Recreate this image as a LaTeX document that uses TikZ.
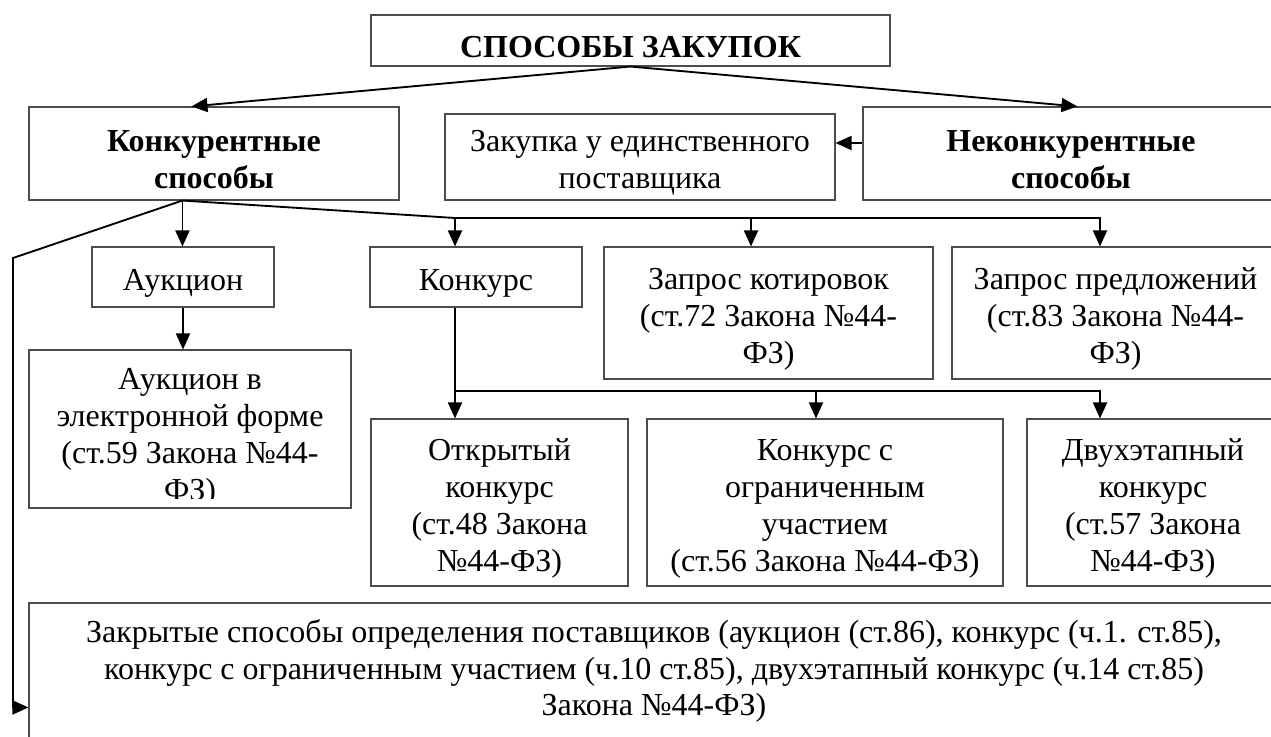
\documentclass[tikz,border=0pt]{standalone}
\usepackage{fontspec}
\setmainfont{Liberation Serif}
\usetikzlibrary{arrows.meta,calc}
\newcommand\fstline{\rule{0pt}{25pt}}
\tikzset{
  box/.style={draw=black!70, line width=0.8pt, rectangle, inner sep=0pt, align=center,
              font=\fontsize{24}{27.7}\selectfont},
  txt/.style={inner sep=0pt, align=center, font=\fontsize{24}{27.7}\selectfont},
  conn/.style={line width=1.4pt, -{Triangle[length=12pt,width=10.5pt]}},
}
\begin{document}
\begin{tikzpicture}[x=0.75pt,y=-0.75pt]
\useasboundingbox (0,0) rectangle (1271,736);
\fill[white] (0,0) rectangle (1271,736);
\clip (0,0) rectangle (1271,736);

% boxes
\node[box, minimum width=389.25pt, minimum height=38.25pt] (top) at (630.5,40.5) {\fstline\textbf{СПОСОБЫ ЗАКУПОК}};
\node[box, minimum width=277.5pt, minimum height=69.75pt] (konk) at (214,153.5) {\fstline\textbf{Конкурентные}\\\textbf{способы}};
\node[box, minimum width=292.5pt, minimum height=64.5pt] (zak) at (640,157) {\fstline Закупка у единственного\\поставщика};
\node[box, minimum width=312pt, minimum height=69.75pt] (nek) at (1071,153.5) {\fstline\textbf{Неконкурентные}\\\textbf{способы}};
\node[box, minimum width=136.5pt, minimum height=45pt] (auk) at (183,277) {\fstline Аукцион};
\node[box, minimum width=159pt, minimum height=45pt] (konkurs) at (476,277) {\fstline Конкурс};
\node[box, minimum width=246.75pt, minimum height=99pt] (kotir) at (768.5,313) {\fstline Запрос котировок\\(ст.72 Закона №44-\\ФЗ)};
\node[box, minimum width=245.25pt, minimum height=99pt] (predl) at (1115.5,313) {\fstline Запрос предложений\\(ст.83 Закона №44-\\ФЗ)};
\node[box, minimum width=241.5pt, minimum height=118.5pt] (aukel) at (190,429) {};
\begin{scope}
  \clip (29,350) rectangle (351,498);
  \node[txt] (aukeltxt) at (190,438) {Аукцион в\\электронной форме\\(ст.59 Закона №44-\\ФЗ)};
\end{scope}
\node[box, minimum width=192.75pt, minimum height=125.25pt] (otkr) at (499.5,502.5) {\fstline Открытый\\конкурс\\(ст.48 Закона\\№44-ФЗ)};
\node[box, minimum width=267pt, minimum height=125.25pt] (ogr) at (825,502.5) {\fstline Конкурс с\\ограниченным\\участием\\(ст.56 Закона №44-ФЗ)};
\node[box, minimum width=189pt, minimum height=125.25pt] (dvuh) at (1153,502.5) {\fstline Двухэтапный\\конкурс\\(ст.57 Закона\\№44-ФЗ)};
\node[box, minimum width=937.5pt, minimum height=102pt] (zakr) at (654,671) {Закрытые способы определения поставщиков (аукцион (ст.86), конкурс (ч.1. ст.85),\\конкурс с ограниченным участием (ч.10 ст.85), двухэтапный конкурс (ч.14 ст.85)\\Закона №44-ФЗ)};

% connectors
\draw[conn] (top.south) -- ($(konk.north west)+(163,0)$);
\draw[conn] (top.south) -- ($(nek.north west)+(215,0)$);
\coordinate (nw) at ($(nek.west)+(0,-10.5)$);
\draw[conn] (nw) -- (nw -| zak.east);

\coordinate (kb) at ($(konk.south west)+(154,0)$);
\draw[conn] (kb) -- (kb |- auk.north);
\coordinate (lc) at (13,258);
\coordinate (ze) at ($(zakr.north west)+(0,105)$);
\draw[conn] (kb) -- (lc) |- (ze);

\coordinate (h1) at (455,218);
\coordinate (h2) at (751,218);
\coordinate (h3) at (1100,218);
\draw[conn] (kb) -- (h1) -- (h3) -- (h3 |- predl.north);
\draw[conn] (h1) -- (h1 |- konkurs.north);
\draw[conn] (h2) -- (h2 |- kotir.north);

\draw[conn] (auk.south) -- (auk.south |- aukel.north);

\coordinate (ks) at (konkurs.south -| h1);
\coordinate (v1) at (455,391);
\coordinate (v2) at (816,391);
\coordinate (v3) at (1100,391);
\draw[conn] (ks) -- (ks |- otkr.north);
\draw[conn] (v1) -- (v3) -- (v3 |- dvuh.north);
\draw[conn] (v2) -- (v2 |- ogr.north);
\end{tikzpicture}
\end{document}
